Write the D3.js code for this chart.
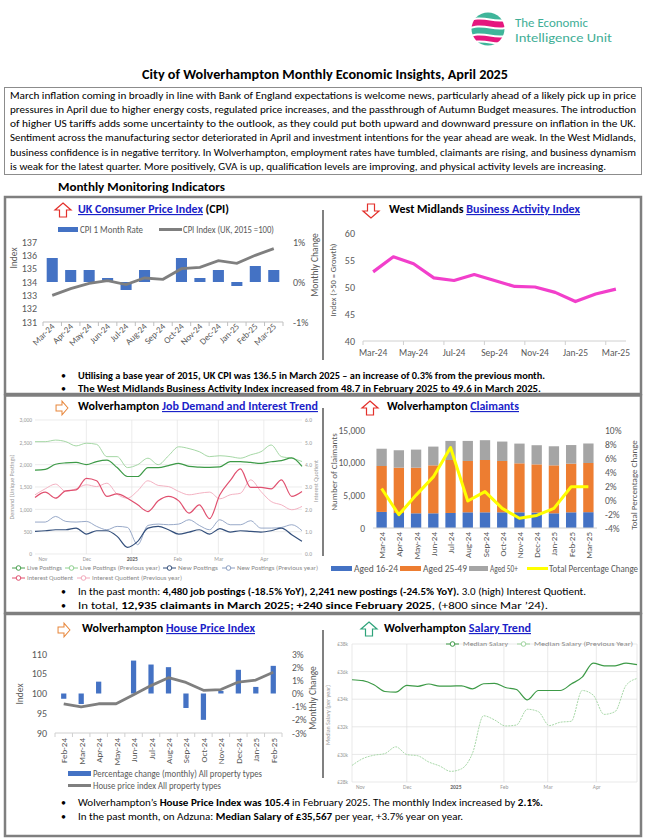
<!DOCTYPE html>
<html>
<head>
<meta charset="utf-8">
<script src="https://cdn.jsdelivr.net/npm/d3@7"></script>
<style>body{margin:0;background:#fff}svg{display:block}</style>
</head>
<body>
<div class="container"></div>
<script>
// ---- data ----
const cpiMonths = ['Mar-24','Apr-24','May-24','Jun-24','Jul-24','Aug-24','Sep-24','Oct-24','Nov-24','Dec-24','Jan-25','Feb-25','Mar-25'];
const cpiRate = [0.6,0.3,0.3,0.1,-0.2,0.3,0.0,0.6,0.1,0.3,-0.1,0.4,0.3];
const cpiIndex = [133.0,133.5,133.9,134.1,133.8,134.3,134.2,135.0,135.1,135.6,135.4,136.0,136.5];
const cpiLeftTicks = [131,132,133,134,135,136,137];
const cpiRightTicks = [-1,0,1];

const baiIndex = [52.8,55.6,54.3,51.7,51.2,52.3,51.2,50.1,50.0,49.0,47.3,48.7,49.6];
const baiTicks = [40,45,50,55,60];

const aged1624 = [2460,2300,2250,2250,2300,2400,2400,2400,2400,2360,2250,2400,2420];
const aged2549 = [7030,6930,6980,7340,8110,7860,8010,7860,7500,7380,7340,7450,7530];
const aged50 = [2645,2670,2770,2870,2920,3070,3030,2970,3020,2930,2920,2845,2985];
const claimChange = [1.65,-2.1,0.7,3.3,7.5,-0.15,1.2,-1.2,-2.6,-2.2,-1.2,1.9,1.9];
const claimLeftTicks = [0,5000,10000,15000];
const claimRightTicks = [-4,-2,0,2,4,6,8,10];

const hpiMonths = ['Feb-24','Mar-24','Apr-24','May-24','Jun-24','Jul-24','Aug-24','Sep-24','Oct-24','Nov-24','Dec-24','Jan-25','Feb-25'];
const hpiChange = [-0.4,-0.8,0.9,0,2.5,2.2,2.0,-1.1,-2.0,0.2,1.8,0.5,2.1];
const hpiIndex = [97.4,96.6,97.4,97.4,99.7,102.0,104.0,102.8,100.8,101.0,102.9,103.4,105.4];
const hpiLeftTicks = [90,95,100,105,110];
const hpiRightTicks = [-3,-2,-1,0,1,2,3];

// weekly series, 27 Sundays from 27 Oct 2024 to 27 Apr 2025
const livePostings = [1880,1895,2010,2040,2050,2000,2070,2100,1935,1735,1735,1935,1935,1980,2030,1960,1945,1940,1950,2070,2070,2050,2030,2065,2090,2150,1960];
const livePostingsPrev = [2515,2515,2550,2515,2420,2480,2455,2180,2180,1935,2000,2145,2000,2200,2400,2360,2290,2180,2200,2180,2145,2220,2290,2440,2180,2145,2070];
const newPostings = [506,521,543,543,580,447,521,521,395,149,283,580,618,543,447,491,543,447,566,491,521,506,491,521,580,432,283];
const newPostingsPrev = [715,715,841,730,715,730,618,543,618,595,208,640,670,655,670,767,640,543,767,655,655,745,580,580,595,655,521];
const interestQ = [2.53,2.77,2.5,2.83,2.87,3.39,3.28,2.58,2.69,2.5,2.2,1.9,2.38,2.58,2.38,1.83,2.2,1.58,2.65,3.28,3.81,2.98,2.98,2.92,3.32,2.58,2.8];
const interestQPrev = [2.65,2.92,3.13,2.8,2.92,3.1,3.02,3.17,2.68,2.5,2.83,3.28,3.07,3.02,2.8,2.65,2.72,2.77,2.47,2.65,2.72,3.32,2.8,2.35,2.2,1.98,2.13];
const medianSalary = [35.41,35.34,35.05,34.56,34.51,35.0,34.93,35.1,34.95,34.95,34.97,34.75,35.12,35.15,34.85,34.7,33.95,34.63,34.63,34.63,35.1,35.6,36.62,36.42,36.42,36.62,36.5];
const medianSalaryPrev = [29.2,29.7,29.94,30.06,30.55,29.99,29.9,29.45,29.16,28.77,28.96,30.1,32.8,32.5,32.06,32.13,33.27,33.1,32.09,32.33,32.4,34.63,34.3,32.9,33.1,35.0,35.5];
const salaryTicks = [28,30,32,34,36,38];

const weeks = d3.timeWeek.range(new Date(2024,9,27), new Date(2025,3,28));
const monthTicks = [new Date(2024,10,1),new Date(2024,11,1),new Date(2025,0,1),new Date(2025,1,1),new Date(2025,2,1),new Date(2025,3,1)];

const paragraph = [
 'March inflation coming in broadly in line with Bank of England expectations is welcome news, particularly ahead of a likely pick up in price',
 'pressures in April due to higher energy costs, regulated price increases, and the passthrough of Autumn Budget measures. The introduction',
 'of higher US tariffs adds some uncertainty to the outlook, as they could put both upward and downward pressure on inflation in the UK.',
 'Sentiment across the manufacturing sector deteriorated in April and investment intentions for the year ahead are weak. In the West Midlands,',
 'business confidence is in negative territory. In Wolverhampton, employment rates have tumbled, claimants are rising, and business dynamism',
 'is weak for the latest quarter. More positively, GVA is up, qualification levels are improving, and physical activity levels are increasing.'
];

// ---- page ----
const FONT = 'Carlito, "Liberation Sans Narrow", Lato, sans-serif';
const BLUE = '#4472C4', ORANGE = '#ED7D31', GREY = '#A5A5A5', LINK = '#1a22c8', AX = '#595959';
const svg = d3.select('.container').append('svg').attr('width',646).attr('height',840)
  .attr('font-family',FONT);
svg.append('rect').attr('width',646).attr('height',840).attr('fill','#fff');

function rich(x, y, parts, len, size, anchor) {
  const t = svg.append('text').attr('x',x).attr('y',y).attr('font-size',size).attr('fill','#000')
    .style('white-space','pre');
  if (anchor) t.attr('text-anchor',anchor);
  if (len) t.attr('textLength',len).attr('lengthAdjust','spacingAndGlyphs');
  parts.forEach(p => {
    const s = t.append('tspan').text(p.t);
    if (p.b) s.attr('font-weight','bold');
    if (p.c) s.attr('fill',p.c);
    if (p.u) s.attr('text-decoration','underline');
  });
  return t;
}
function label(x, y, str, size, fill, len, anchor, rot) {
  const t = svg.append('text').attr('font-size',size).attr('fill',fill).text(str)
    .attr('transform',`translate(${x},${y})` + (rot ? ` rotate(${rot})` : ''));
  if (anchor) t.attr('text-anchor',anchor);
  if (len) t.attr('textLength',len).attr('lengthAdjust','spacingAndGlyphs');
  return t;
}
function arrow(cx, cy, rot, color, s) {
  svg.append('path').attr('d','M0,-7L8,0L3.5,0L3.5,7L-3.5,7L-3.5,0L-8,0Z')
    .attr('transform',`translate(${cx},${cy}) rotate(${rot}) scale(${s||1})`)
    .attr('fill','#fff').attr('stroke',color).attr('stroke-width',1.2);
}
function cleanAxis(g, size, fill) {
  g.select('.domain').remove();
  g.selectAll('.tick line').remove();
  g.selectAll('text').attr('font-family',FONT).attr('font-size',size).attr('fill',fill);
}
const pct = d => (d < 0 ? '-' : '') + Math.abs(d) + '%';

// logo
const logo = svg.append('g').attr('transform','translate(488,29)');
logo.append('clipPath').attr('id','lc').append('circle').attr('r',16.5);
const lg = logo.append('g').attr('clip-path','url(#lc)');
const bands = [
  ['M-20,-20L20,-20L20,-11C8,-6 -6,-16 -20,-9Z','#3fb59a'],
  ['M-20,-7C-6,-14 8,-4 20,-9L20,-3C8,2 -6,-8 -20,-1Z','#e5177e'],
  ['M-20,1C-6,-6 8,4 20,-1L20,5C8,10 -6,0 -20,7Z','#3fb59a'],
  ['M-20,9C-6,2 8,12 20,7L20,12C8,17 -6,7 -20,14Z','#e5177e'],
  ['M-20,16C-6,9 8,19 20,14L20,20L-20,20Z','#3fb59a']
];
bands.forEach(b => lg.append('path').attr('d',b[0]).attr('fill',b[1]));
label(515,27,'The Economic',12,'#3fae96',73);
label(515,42,'Intelligence Unit',12,'#3fae96',97);

// title and summary
rich(142,79,[{t:'City of Wolverhampton Monthly Economic Insights, April 2025',b:1}],366,13.5);
svg.append('rect').attr('x',4.5).attr('y',87.5).attr('width',637).attr('height',87).attr('fill','none').attr('stroke','#8c8c8c');
paragraph.forEach((s,i) => rich(10,98.5 + i*14.3,[{t:s}], i < 5 ? 626 : 596, 10.5));
rich(58,191,[{t:'Monthly Monitoring Indicators',b:1}],167,12);

// frames
[[197,394],[395.5,613],[614,836]].forEach(([a,b]) =>
  svg.append('rect').attr('x',5).attr('y',a).attr('width',636).attr('height',b-a)
    .attr('fill','none').attr('stroke','#7f7f7f').attr('stroke-width',2.5));
[[210,360],[408,556],[630,778]].forEach(([a,b]) =>
  svg.append('line').attr('x1',323).attr('x2',323).attr('y1',a).attr('y2',b).attr('stroke','#808080').attr('stroke-width',2));

// headers
arrow(63,210,0,'#e3302b');
rich(78,213,[{t:'UK Consumer Price Index',b:1,c:LINK,u:1},{t:' (CPI)',b:1}],151,11.5);
arrow(371,211,180,'#e3302b');
rich(389,213,[{t:'West Midlands ',b:1},{t:'Business Activity Index',b:1,c:LINK,u:1}],191,11.5);
arrow(62,408,90,'#e8863a',0.85);
rich(78,410,[{t:'Wolverhampton ',b:1},{t:'Job Demand and Interest Trend',b:1,c:LINK,u:1}],240,11.5);
arrow(370,408,0,'#e3302b');
rich(387,410,[{t:'Wolverhampton ',b:1},{t:'Claimants',b:1,c:LINK,u:1}],132,11.5);
arrow(64,630,90,'#e8863a',0.85);
rich(82,632,[{t:'Wolverhampton ',b:1},{t:'House Price Index',b:1,c:LINK,u:1}],173,11.5);
arrow(369,629,0,'#2ea37a');
rich(384,632,[{t:'Wolverhampton ',b:1},{t:'Salary Trend',b:1,c:LINK,u:1}],147,11.5);

// ---- CPI chart ----
{
  const x = d3.scaleBand().domain(cpiMonths).range([43,283]);
  const bw = x.bandwidth();
  const yL = d3.scaleLinear().domain([131,137]).range([322,242]);
  const yR = d3.scaleLinear().domain([-1,1]).range([322,242]);
  svg.append('g').selectAll('rect').data(cpiRate).join('rect')
    .attr('x',(d,i)=>x(cpiMonths[i])+bw*0.2).attr('width',bw*0.6)
    .attr('y',d=>yR(Math.max(0,d))).attr('height',d=>Math.abs(yR(d)-yR(0))).attr('fill',BLUE);
  svg.append('line').attr('x1',43).attr('x2',283).attr('y1',322).attr('y2',322).attr('stroke','#bfbfbf');
  svg.append('g').selectAll('line').data(d3.range(14)).join('line')
    .attr('x1',i=>43+i*bw).attr('x2',i=>43+i*bw).attr('y1',322).attr('y2',326).attr('stroke','#bfbfbf');
  svg.append('path').datum(cpiIndex)
    .attr('d',d3.line().x((d,i)=>x(cpiMonths[i])+bw/2).y(d=>yL(d)))
    .attr('fill','none').attr('stroke','#7f7f7f').attr('stroke-width',2.8);
  cleanAxis(svg.append('g').attr('transform','translate(40,0)')
    .call(d3.axisLeft(yL).tickValues(cpiLeftTicks).tickFormat(d3.format('d')).tickSize(0).tickPadding(3)),10,AX);
  cleanAxis(svg.append('g').attr('transform','translate(290,0)')
    .call(d3.axisRight(yR).tickValues(cpiRightTicks).tickFormat(pct).tickSize(0).tickPadding(3)),10,AX);
  cpiMonths.forEach(m => label(x(m)+bw/2+3,327,m,9,AX,null,'end',-45));
  label(17,258,'Index',9.5,AX,null,'middle',-90);
  label(318,265,'Monthly Change',9.5,AX,null,'middle',-90);
  svg.append('rect').attr('x',58).attr('y',227).attr('width',20).attr('height',5).attr('fill',BLUE);
  label(80,232.5,'CPI 1 Month Rate',9.5,AX,63);
  svg.append('line').attr('x1',159).attr('x2',182).attr('y1',229.5).attr('y2',229.5).attr('stroke','#7f7f7f').attr('stroke-width',3);
  label(183,232.5,'CPI Index (UK, 2015 =100)',9.5,AX,91);
}

// ---- Business Activity Index ----
{
  const x = d3.scaleBand().domain(cpiMonths).range([363,626]);
  const bw = x.bandwidth();
  const y = d3.scaleLinear().domain([40,60]).range([341,233]);
  svg.append('line').attr('x1',363).attr('x2',626).attr('y1',341).attr('y2',341).attr('stroke','#d0d0d0');
  svg.append('g').selectAll('line').data(d3.range(0,14,2)).join('line')
    .attr('x1',i=>363+i*bw).attr('x2',i=>363+i*bw).attr('y1',341).attr('y2',345).attr('stroke','#d0d0d0');
  svg.append('path').datum(baiIndex)
    .attr('d',d3.line().x((d,i)=>x(cpiMonths[i])+bw/2).y(d=>y(d)))
    .attr('fill','none').attr('stroke','#f23fcb').attr('stroke-width',3.2).attr('stroke-linejoin','round');
  cleanAxis(svg.append('g').attr('transform','translate(358,0)')
    .call(d3.axisLeft(y).tickValues(baiTicks).tickFormat(d3.format('d')).tickSize(0).tickPadding(3)),10,AX);
  cpiMonths.filter((m,i)=>i%2===0).forEach(m => label(x(m)+bw/2,355.5,m,9.5,AX,null,'middle'));
  label(336,280,'Index (>50 = Growth)',8.5,AX,null,'middle',-90);
}

// bullets helper
function bullet(y, parts, len) {
  label(61,y,'\u2022',10,'#000');
  rich(78,y,parts,len,10);
}
bullet(378.5,[{t:'Utilising a base year of 2015, UK CPI was 136.5 in March 2025 \u2013 an increase of 0.3% from the previous month.',b:1}],467);
bullet(392,[{t:'The West Midlands Business Activity Index increased from 48.7 in February 2025 to 49.6 in March 2025.',b:1}],463);

// ---- Job demand chart ----
{
  const x = d3.scaleTime().domain([weeks[0],weeks[26]]).range([35,302]);
  const yL = d3.scaleLinear().domain([0,3000]).range([554,420]);
  const yR = d3.scaleLinear().domain([0,6]).range([554,420]);
  const g = svg.append('g');
  g.selectAll('.h').data(yL.ticks(6)).join('line').attr('x1',35).attr('x2',302)
    .attr('y1',d=>yL(d)).attr('y2',d=>yL(d)).attr('stroke','#e4e4e4').attr('stroke-width',0.7);
  g.selectAll('.v').data(monthTicks.slice(1)).join('line').attr('y1',420).attr('y2',554)
    .attr('x1',d=>x(d)).attr('x2',d=>x(d)).attr('stroke','#e4e4e4').attr('stroke-width',0.7);
  cleanAxis(g.append('g').attr('transform','translate(34,0)')
    .call(d3.axisLeft(yL).ticks(6).tickFormat(d3.format(',')).tickSize(0).tickPadding(2)),5.5,'#9a9a9a');
  cleanAxis(g.append('g').attr('transform','translate(303,0)')
    .call(d3.axisRight(yR).ticks(6).tickFormat(d3.format('.1f')).tickSize(0).tickPadding(2)),5.5,'#9a9a9a');
  const xa = g.append('g').attr('transform','translate(0,554)')
    .call(d3.axisBottom(x).tickValues(monthTicks).tickFormat(d=>d.getMonth()===0?d.getFullYear():d3.timeFormat('%b')(d)).tickSize(0).tickPadding(3));
  cleanAxis(xa,5.5,'#9a9a9a');
  xa.selectAll('text').filter(d=>d.getMonth()===0).attr('font-weight','bold').attr('fill','#666');
  const ser = [
    [livePostingsPrev,yL,'#9bd39b',0.9],[newPostingsPrev,yL,'#8c9fc2',0.9],[interestQPrev,yR,'#f2a9bb',0.9],
    [livePostings,yL,'#3d9a47',1.2],[newPostings,yL,'#34507c',1.2],[interestQ,yR,'#e0506f',1.2]
  ];
  ser.forEach(([vals,ys,c,w]) => g.append('path').datum(vals)
    .attr('d',d3.line().x((d,i)=>x(weeks[i])).y(d=>ys(d)).curve(d3.curveMonotoneX))
    .attr('fill','none').attr('stroke',c).attr('stroke-width',w));
  label(14,487,'Demand (Unique Postings)',6,'#9a9a9a',null,'middle',-90);
  label(318,481,'Interest Quotient',6,'#9a9a9a',null,'middle',-90);
  const leg = [
    [12,568,'#4aa050','Live Postings',35],[65,568,'#8fd08f','Live Postings (Previous year)',80],
    [163,568,'#34507c','New Postings',40],[222,568,'#8c9fc2','New Postings (Previous year)',81],
    [12,578,'#e0506f','Interest Quotient',46],[77,578,'#f2a9bb','Interest Quotient (Previous year)',90]
  ];
  leg.forEach(([lx,ly,c,t,w]) => {
    svg.append('line').attr('x1',lx).attr('x2',lx+13).attr('y1',ly).attr('y2',ly).attr('stroke',c).attr('stroke-width',1);
    svg.append('circle').attr('cx',lx+6.5).attr('cy',ly).attr('r',2.3).attr('fill','#fff').attr('stroke',c).attr('stroke-width',1);
    label(lx+15,ly+2,t,6,'#8a8a8a',w);
  });
}

// ---- Claimants ----
{
  const x = d3.scaleBand().domain(cpiMonths).range([373,597]);
  const bw = x.bandwidth();
  const yL = d3.scaleLinear().domain([0,15000]).range([528,430]);
  const yR = d3.scaleLinear().domain([-4,10]).range([528,430]);
  const rows = cpiMonths.map((m,i)=>({m, a:aged1624[i], b:aged2549[i], c:aged50[i]}));
  const stack = d3.stack().keys(['a','b','c'])(rows);
  const cols = [BLUE, ORANGE, GREY];
  stack.forEach((layer,k) => svg.append('g').attr('fill',cols[k]).selectAll('rect').data(layer).join('rect')
    .attr('x',d=>x(d.data.m)+bw*0.2).attr('width',bw*0.6)
    .attr('y',d=>yL(d[1])).attr('height',d=>yL(d[0])-yL(d[1])));
  svg.append('line').attr('x1',373).attr('x2',597).attr('y1',528).attr('y2',528).attr('stroke','#d0d0d0');
  svg.append('path').datum(claimChange)
    .attr('d',d3.line().x((d,i)=>x(cpiMonths[i])+bw/2).y(d=>yR(d)))
    .attr('fill','none').attr('stroke','#ffff00').attr('stroke-width',3).attr('stroke-linejoin','round');
  cleanAxis(svg.append('g').attr('transform','translate(368,0)')
    .call(d3.axisLeft(yL).tickValues(claimLeftTicks).tickFormat(d3.format(',')).tickSize(0).tickPadding(3)),9.5,AX);
  cleanAxis(svg.append('g').attr('transform','translate(602,0)')
    .call(d3.axisRight(yR).tickValues(claimRightTicks).tickFormat(pct).tickSize(0).tickPadding(3)),9.5,AX);
  cpiMonths.forEach(m => label(x(m)+bw/2+3.5,532,m,9,AX,null,'end',-90));
  label(337,472,'Number of Claimants',9,AX,null,'middle',-90);
  label(637,485,'Total Percentage Change',9,AX,null,'middle',-90);
  svg.append('rect').attr('x',331).attr('y',566).attr('width',21).attr('height',5).attr('fill',BLUE);
  label(354,571.5,'Aged 16-24',9.5,AX,44);
  svg.append('rect').attr('x',400).attr('y',566).attr('width',21).attr('height',5).attr('fill',ORANGE);
  label(423,571.5,'Aged 25-49',9.5,AX,44);
  svg.append('rect').attr('x',469).attr('y',566).attr('width',19).attr('height',5).attr('fill',GREY);
  label(490,571.5,'Aged 50+',9.5,AX,28);
  svg.append('line').attr('x1',527).attr('x2',548).attr('y1',568.5).attr('y2',568.5).attr('stroke','#ffff00').attr('stroke-width',3);
  label(549,571.5,'Total Percentage Change',9.5,AX,89);
}

bullet(595,[{t:'In the past month: '},{t:'4,480 job postings (-18.5% YoY), 2,241 new postings (-24.5% YoY).',b:1},{t:' 3.0 (high) Interest Quotient.'}],508);
bullet(608.5,[{t:'In total, '},{t:'12,935 claimants in March 2025; +240 since February 2025',b:1},{t:', (+800 since Mar \u201924).'}],470);

// ---- House Price Index ----
{
  const x = d3.scaleBand().domain(hpiMonths).range([55,282]);
  const bw = x.bandwidth();
  const yL = d3.scaleLinear().domain([90,110]).range([733,654]);
  const yR = d3.scaleLinear().domain([-3,3]).range([733,654]);
  svg.append('g').selectAll('rect').data(hpiChange).join('rect')
    .attr('x',(d,i)=>x(hpiMonths[i])+bw*0.35).attr('width',bw*0.3)
    .attr('y',d=>yR(Math.max(0,d))).attr('height',d=>Math.abs(yR(d)-yR(0))).attr('fill',BLUE);
  svg.append('line').attr('x1',55).attr('x2',282).attr('y1',733).attr('y2',733).attr('stroke','#d0d0d0');
  svg.append('g').selectAll('line').data(d3.range(14)).join('line')
    .attr('x1',i=>55+i*bw).attr('x2',i=>55+i*bw).attr('y1',733).attr('y2',737).attr('stroke','#d0d0d0');
  svg.append('path').datum(hpiIndex)
    .attr('d',d3.line().x((d,i)=>x(hpiMonths[i])+bw/2).y(d=>yL(d)))
    .attr('fill','none').attr('stroke','#7f7f7f').attr('stroke-width',2.8).attr('stroke-linejoin','round');
  cleanAxis(svg.append('g').attr('transform','translate(50,0)')
    .call(d3.axisLeft(yL).tickValues(hpiLeftTicks).tickFormat(d3.format('d')).tickSize(0).tickPadding(3)),10,AX);
  cleanAxis(svg.append('g').attr('transform','translate(289,0)')
    .call(d3.axisRight(yR).tickValues(hpiRightTicks).tickFormat(pct).tickSize(0).tickPadding(3)),9.5,AX);
  hpiMonths.forEach(m => label(x(m)+bw/2+3.5,738,m,9,AX,null,'end',-90));
  label(23,694,'Index',9.5,AX,null,'middle',-90);
  label(316,698,'Monthly Change',9.5,AX,null,'middle',-90);
  svg.append('rect').attr('x',68).attr('y',771).attr('width',23).attr('height',5).attr('fill',BLUE);
  label(93,776.5,'Percentage change (monthly) All property types',9.5,AX,169);
  svg.append('line').attr('x1',68).attr('x2',91).attr('y1',785.5).attr('y2',785.5).attr('stroke','#7f7f7f').attr('stroke-width',3);
  label(93,788.5,'House price index All property types',9.5,AX,128);
}

// ---- Salary trend ----
{
  const x = d3.scaleTime().domain([weeks[0],weeks[26]]).range([352,637]);
  const y = d3.scaleLinear().domain([28,38]).range([782,644]);
  const g = svg.append('g');
  g.selectAll('.h').data(salaryTicks).join('line').attr('x1',352).attr('x2',637)
    .attr('y1',d=>y(d)).attr('y2',d=>y(d)).attr('stroke','#e0e0e0').attr('stroke-width',0.7);
  g.selectAll('.v').data(monthTicks.slice(1).concat([weeks[0],weeks[26]])).join('line').attr('y1',644).attr('y2',782)
    .attr('x1',d=>x(d)).attr('x2',d=>x(d)).attr('stroke','#e0e0e0').attr('stroke-width',0.7);
  cleanAxis(g.append('g').attr('transform','translate(350,0)')
    .call(d3.axisLeft(y).tickValues(salaryTicks).tickFormat(d=>'\u00a3'+d+'k').tickSize(0).tickPadding(2)),5.5,'#9a9a9a');
  const xa = g.append('g').attr('transform','translate(0,782)')
    .call(d3.axisBottom(x).tickValues(monthTicks).tickFormat(d=>d.getMonth()===0?d.getFullYear():d3.timeFormat('%b')(d)).tickSize(0).tickPadding(3));
  cleanAxis(xa,5.5,'#9a9a9a');
  xa.selectAll('text').filter(d=>d.getMonth()===0).attr('font-weight','bold').attr('fill','#666');
  g.append('path').datum(medianSalaryPrev)
    .attr('d',d3.line().x((d,i)=>x(weeks[i])).y(d=>y(d)).curve(d3.curveMonotoneX))
    .attr('fill','none').attr('stroke','#9fd49f').attr('stroke-width',0.9).attr('stroke-dasharray','2,1');
  g.append('path').datum(medianSalary)
    .attr('d',d3.line().x((d,i)=>x(weeks[i])).y(d=>y(d)).curve(d3.curveMonotoneX))
    .attr('fill','none').attr('stroke','#3d9a47').attr('stroke-width',1.2);
  label(330,715,'Median Salary (per year)',6,'#9a9a9a',null,'middle',-90);
  [[446,'#3d9a47','Median Salary',45],[517,'#9fd49f','Median Salary (Previous Year)',99]].forEach(([lx,c,t,w]) => {
    svg.append('line').attr('x1',lx).attr('x2',lx+13).attr('y1',644).attr('y2',644).attr('stroke',c).attr('stroke-width',1);
    svg.append('circle').attr('cx',lx+6.5).attr('cy',644).attr('r',2.3).attr('fill','#fff').attr('stroke',c);
    label(lx+17,646,t,6,'#8a8a8a',w);
  });
}

bullet(805.5,[{t:'Wolverhampton\u2019s '},{t:'House Price Index was 105.4',b:1},{t:' in February 2025. The monthly Index increased by '},{t:'2.1%.',b:1}],465);
bullet(819.5,[{t:'In the past month, on Adzuna: '},{t:'Median Salary of \u00a335,567',b:1},{t:' per year, +3.7% year on year.'}],385);
</script>
</body>
</html>
